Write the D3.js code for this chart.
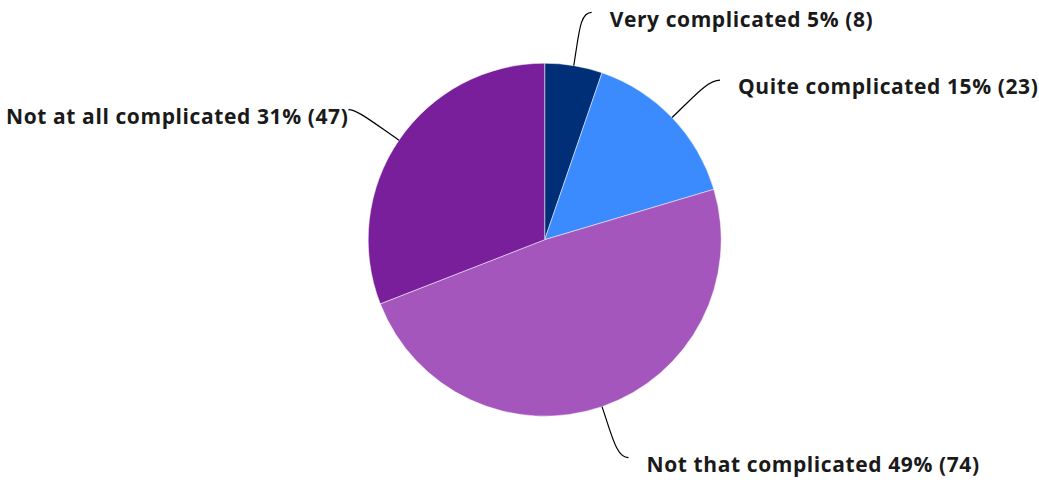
<!doctype html>
<html lang='en'>
<head>
	<meta charset='utf-8'>
	<title>Pie chart</title>
	<script src='https://cdnjs.cloudflare.com/ajax/libs/d3/7.8.5/d3.min.js'></script>
	<style>
		html, body {
			margin: 0;
			background: #fff;
		}
		.label {
			font-family: 'Open Sans', sans-serif;
			font-weight: 700;
			font-size: 21px;
			letter-spacing: 0.6px;
			fill: #1a1a1a;
		}
	</style>
</head>
<body>
	<div id='container'></div>

	<script>
		const categories = ['Very complicated', 'Quite complicated', 'Not that complicated', 'Not at all complicated'];
		const counts = [8, 23, 74, 47];
		const percents = [5, 15, 49, 31];
		const colorList = ['#002f78', '#3b8afe', '#a456bc', '#7a1f9b'];

		const width = 1039, height = 482;
		const cx = 544.7, cy = 239.7, radius = 176.5;

		const data = categories.map((c, i) => ({name: c, value: counts[i], pct: percents[i]}));

		const colors = d3.scaleOrdinal().domain(categories).range(colorList);

		const svg = d3.select('#container').append('svg')
			.attr('width', width)
			.attr('height', height);

		const g = svg.append('g')
			.attr('transform', 'translate(' + cx + ',' + cy + ')');

		const pie = d3.pie().sort(null).value((d) => d.value);
		const arc = d3.arc().innerRadius(0).outerRadius(radius);
		const arcs = pie(data);

		g.selectAll('path.slice')
			.data(arcs)
			.enter()
			.append('path')
			.attr('class', 'slice')
			.attr('d', arc)
			.attr('fill', (d) => colors(d.data.name))
			.attr('stroke', '#fff')
			.attr('stroke-width', 0.5);

		// leader lines: radial out ~54px then small horizontal hook
		const lead = 54;
		function points(d) {
			const a = (d.startAngle + d.endAngle) / 2;
			const sx = Math.sin(a), sy = -Math.cos(a);
			const right = sx >= 0;
			const hook = right ? 9 : -6;
			const p0 = [sx * radius, sy * radius];
			const p1 = [sx * (radius + lead), sy * (radius + lead)];
			const p2 = [p1[0] + hook, p1[1]];
			return {p0, p1, p2, right};
		}

		g.selectAll('path.leader')
			.data(arcs)
			.enter()
			.append('path')
			.attr('class', 'leader')
			.attr('fill', 'none')
			.attr('stroke', '#000')
			.attr('stroke-width', 1.2)
			.attr('d', (d) => {
				const p = points(d);
				const c1 = [p.p0[0] + (p.p1[0] - p.p0[0]) * 0.6, p.p0[1] + (p.p1[1] - p.p0[1]) * 0.6];
				const c2 = [p.p1[0] - (p.right ? 3 : -3), p.p1[1]];
				return 'M' + p.p0 + 'C' + c1 + ' ' + c2 + ' ' + p.p2;
			});

		g.selectAll('text.label')
			.data(arcs)
			.enter()
			.append('text')
			.attr('class', 'label')
			.attr('x', (d) => { const p = points(d); return p.p2[0] + (p.right ? 18 : 0); })
			.attr('y', (d) => points(d).p2[1] + 7)
			.attr('dy', '0.35em')
			.attr('text-anchor', (d) => points(d).right ? 'start' : 'end')
			.text((d) => d.data.name + ' ' + d.data.pct + '% (' + d.data.value + ')');
	</script>
</body>
</html>
